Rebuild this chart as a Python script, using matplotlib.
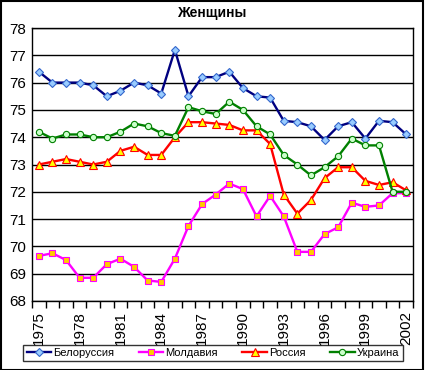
import matplotlib
matplotlib.use('Agg')
import matplotlib.pyplot as plt
from matplotlib.patches import Rectangle

plt.rcParams['font.family'] = ['Liberation Sans', 'DejaVu Sans']

# --- data ---
years = list(range(1975, 2003))
belarus = [76.4, 76.0, 76.0, 76.0, 75.9, 75.5, 75.7, 76.0, 75.9, 75.6,
           77.2, 75.5, 76.2, 76.2, 76.4, 75.8, 75.5, 75.45, 74.6, 74.55,
           74.4, 73.9, 74.4, 74.55, 73.95, 74.6, 74.55, 74.1]
moldova = [69.65, 69.75, 69.5, 68.85, 68.85, 69.35, 69.55, 69.25, 68.75, 68.7,
           69.55, 70.75, 71.55, 71.9, 72.3, 72.1, 71.1, 71.85, 71.1, 69.8,
           69.8, 70.45, 70.7, 71.6, 71.45, 71.5, 71.95, 71.95]
russia = [73.0, 73.1, 73.2, 73.1, 73.0, 73.1, 73.5, 73.65, 73.35, 73.35,
          74.0, 74.55, 74.55, 74.5, 74.45, 74.25, 74.25, 73.75, 71.9, 71.2,
          71.7, 72.5, 72.9, 72.9, 72.4, 72.25, 72.35, 72.05]
ukraine = [74.2, 73.95, 74.1, 74.1, 74.0, 74.0, 74.2, 74.5, 74.4, 74.15,
           74.05, 75.1, 74.95, 74.85, 75.3, 75.0, 74.4, 74.1, 73.35, 73.0,
           72.6, 72.9, 73.3, 73.95, 73.7, 73.7, 72.0, 72.0]
tick_years = years[::3]

W, H = 425, 370
fig = plt.figure(figsize=(W / 100, H / 100), dpi=100)
# plot area in pixels: x 32..413, y 28..301
ax = fig.add_axes([32 / W, 1 - 301 / H, (413 - 32) / W, (301 - 28) / H])

x = list(range(len(years)))
ax.plot(x, belarus, color='#000080', lw=1.7, marker='D', ms=4,
        mfc='#99CCFF', mec='#3366CC', mew=0.8, label='Белоруссия')
ax.plot(x, moldova, color='#FF00FF', lw=1.7, marker='s', ms=4.5,
        mfc='#FFCC00', mec='#FF00FF', mew=0.8, label='Молдавия')
ax.plot(x, russia, color='#FF0000', lw=1.7, marker='^', ms=5.5,
        mfc='#FFFF00', mec='#FF0000', mew=0.8, label='Россия')
ax.plot(x, ukraine, color='#008000', lw=1.7, marker='o', ms=4.5,
        mfc='#CCFFCC', mec='#008000', mew=0.8, label='Украина')

ax.set_xlim(-0.5, len(years) - 0.5)
ax.set_ylim(68, 78)
ax.set_yticks(range(68, 79))
ax.yaxis.grid(True, color='black', lw=1)
ax.set_axisbelow(True)
ax.tick_params(axis='y', length=0, labelsize=11, pad=4)

# category boundaries get tick marks, labels every 3 years
ax.set_xticks([i - 0.5 for i in range(len(years) + 1)], minor=True)
ax.set_xticks([years.index(y) for y in tick_years])
ax.set_xticklabels([str(y) for y in tick_years], rotation=90, fontsize=11)
ax.tick_params(axis='x', which='major', length=0, pad=7)
ax.tick_params(axis='x', which='minor', length=5, direction='out', width=1)

for s in ax.spines.values():
    s.set_linewidth(1)
    s.set_color('black')

fig.text(0.5, 1 - 13 / H, 'Женщины', ha='center', va='center',
         fontsize=10, fontweight='bold')

leg = fig.legend(loc='center', bbox_to_anchor=(213 / W, 1 - 353 / H), ncol=4,
                 fontsize=8, frameon=True, fancybox=False, edgecolor='black',
                 handlelength=2.2, columnspacing=2.2, borderpad=0.3,
                 handletextpad=0.2, numpoints=1)
leg.get_frame().set_linewidth(1)

fig.patches.append(Rectangle((0.5 / W, 0.5 / H), 1 - 3 / W, 1 - 1.5 / H,
                             transform=fig.transFigure, fill=False,
                             edgecolor='black', lw=1.5))

fig.savefig('out.png', dpi=100)
